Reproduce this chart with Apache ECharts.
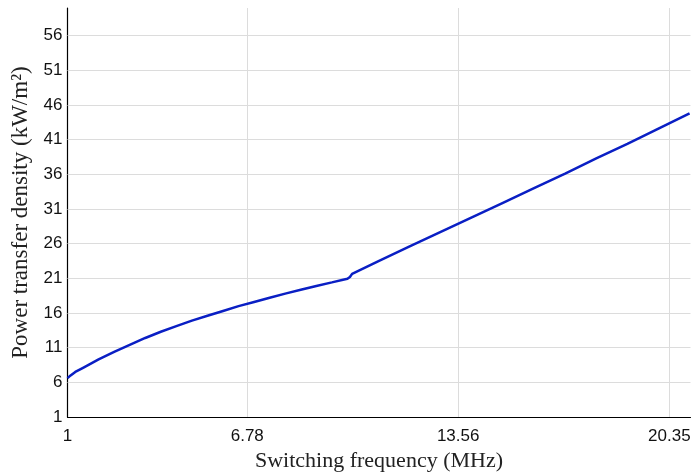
<!DOCTYPE html>
<html>
<head>
<meta charset="utf-8">
<script src="https://cdn.jsdelivr.net/npm/echarts@6/dist/echarts.min.js"></script>
<style>html,body{margin:0;padding:0;background:#fff}#c{width:694px;height:475px}</style>
</head>
<body>
<div id="c"></div>
<script>
// Switching frequency (MHz)
var freq = [1, 1.1, 1.25, 1.5, 1.75, 2, 2.5, 3, 3.5, 4, 4.5, 5, 5.5, 6, 6.5, 7, 7.5, 8, 8.5, 9, 9.5, 10, 10.08, 10.15, 10.4, 11, 12, 13, 14, 15, 16, 17, 18, 19, 20, 21];
// Power transfer density (kW/m^2)
var density = [6.6, 7.0, 7.5, 8.1, 8.7, 9.3, 10.4, 11.4, 12.4, 13.3, 14.1, 14.9, 15.6, 16.3, 17.0, 17.6, 18.2, 18.8, 19.35, 19.9, 20.42, 20.95, 21.2, 21.65, 22.2, 23.5, 25.6, 27.7, 29.8, 31.9, 34.0, 36.1, 38.3, 40.4, 42.6, 44.8];
var xTicks = [1, 6.78, 13.56, 20.35];
var yTicks = [1, 6, 11, 16, 21, 26, 31, 36, 41, 46, 51, 56];

var pts = freq.map(function (f, i) { return [f, density[i]]; });
var gridMarks = xTicks.slice(1).map(function (v) { return { xAxis: v }; })
  .concat(yTicks.slice(1).map(function (v) { return { yAxis: v }; }));

var chart = echarts.init(document.getElementById('c'), null, { renderer: 'canvas' });
chart.setOption({
  animation: false,
  backgroundColor: '#fff',
  grid: { left: 67.5, right: 3.5, top: 8, bottom: 58, containLabel: false, outerBoundsMode: 'none' },
  xAxis: {
    type: 'value', min: 1, max: 21.03,
    name: 'Switching frequency (MHz)', nameLocation: 'middle', nameGap: 33,
    nameTextStyle: { fontFamily: 'Liberation Serif', fontSize: 22, color: '#222' },
    axisLine: { show: true, lineStyle: { color: '#000', width: 1.2 } },
    axisTick: { show: true, inside: true, length: 6, customValues: xTicks, lineStyle: { color: '#000' } },
    axisLabel: { customValues: xTicks, fontFamily: 'Liberation Sans', fontSize: 17, color: '#111', margin: 11,
      formatter: function (v) { return String(v); } },
    splitLine: { show: false }
  },
  yAxis: {
    type: 'value', min: 1, max: 60,
    name: 'Power transfer density (kW/m\u00B2)', nameLocation: 'middle', nameGap: 31, nameRotate: 90,
    nameTextStyle: { fontFamily: 'Liberation Serif', fontSize: 23, color: '#222' },
    axisLine: { show: true, lineStyle: { color: '#000', width: 1.2 } },
    axisTick: { show: true, inside: true, length: 6, customValues: yTicks, lineStyle: { color: '#000' } },
    axisLabel: { customValues: yTicks, fontFamily: 'Liberation Sans', fontSize: 17, color: '#111', margin: 5 },
    splitLine: { show: false }
  },
  series: [{
    type: 'line', data: pts, showSymbol: false, smooth: false, z: 3,
    lineStyle: { color: '#0a1fc4', width: 2.5 },
    markLine: {
      silent: true, symbol: 'none', label: { show: false }, animation: false, z: 1,
      lineStyle: { color: '#dcdcdc', width: 1, type: 'solid' },
      data: gridMarks
    }
  }]
});
</script>
</body>
</html>
